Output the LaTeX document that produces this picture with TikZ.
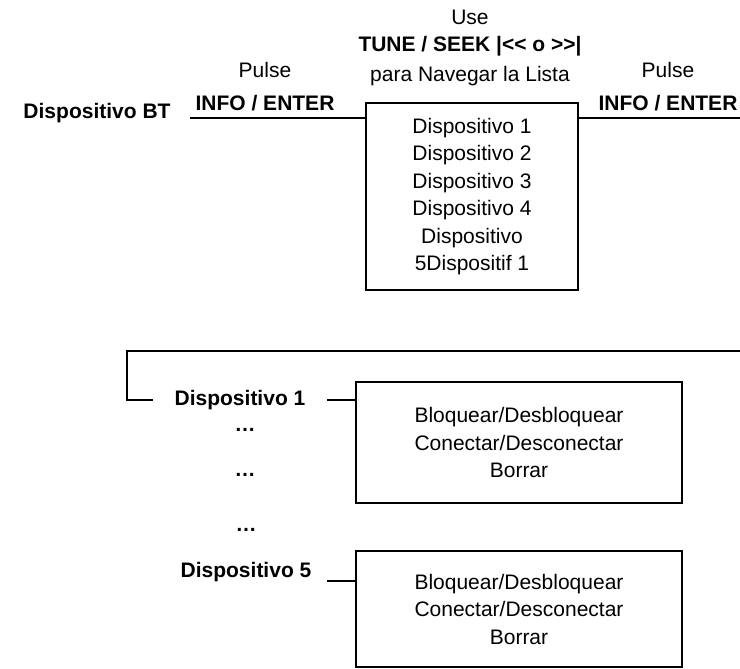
\documentclass[tikz,border=0pt]{standalone}
\usepackage{fontspec}
\setmainfont{Liberation Sans}
\usepackage{tikz}
\usetikzlibrary{positioning,calc}

\tikzset{
  txt/.style={align=center, inner sep=0pt, font=\fontsize{21}{27.5}\selectfont},
  neg/.style={align=center, inner sep=0pt, font=\fontsize{21}{27.5}\selectfont\bfseries},
  caja/.style={draw, line width=1.6pt, align=center, inner sep=0pt, font=\fontsize{21}{27.5}\selectfont},
  linea/.style={line width=1.6pt}
}

\begin{document}
\begin{tikzpicture}[x=1pt,y=-1pt]
  \useasboundingbox (0,0) rectangle (740,669); % 全体の大きさ
  % 上段：装置一覧
  \node[txt] (use) at (470,17) {Use}; % 上の説明
  \node[neg] (tune) at (470,46) {TUNE / SEEK |<{}< o >{}>|}; % ボタン名
  \node[txt] (nav) at (470,76) {para Navegar la Lista}; % 説明の続き
  \node[neg] (bt) at (97,113) {Dispositivo BT}; % 出発点
  \node[txt] (pulseL) at (265,70) {Pulse}; % 左の操作
  \node[neg] (infoL) at (265,103) {INFO / ENTER};
  \node[txt] (pulseR) at (668,70) {Pulse}; % 右の操作
  \node[neg] (infoR) at (668,103) {INFO / ENTER};
  \node[caja, minimum width=212pt, minimum height=187pt] (lista) at (472,196.5)
    {Dispositivo 1\\Dispositivo 2\\Dispositivo 3\\Dispositivo 4\\Dispositivo\\5Dispositif 1}; % 一覧の箱
  \coordinate (ini) at (190,118); % 左の線の始まり
  \coordinate (fin) at (740,118); % 右の線の終わり
  \draw[linea] (ini) -- (ini -| lista.west); % 左の線
  \draw[linea] (lista.east |- fin) -- (fin); % 右の線
  % 下段：各装置のメニュー
  \coordinate (ramaA) at (740,351); % 右から来る線
  \coordinate (ramaB) at (127,351); % 角
  \coordinate (ramaC) at (153,400); % 枝の先
  \draw[linea] (ramaA) -- (ramaB) |- (ramaC); % 折れ線
  \node[neg] (disp1) at (240,400) {Dispositivo 1};
  \node[neg] (dotsA) at (245,430) {…};
  \node[neg] (dotsB) at (245,475) {…};
  \node[neg] (dotsC) at (246,530) {…};
  \node[neg] (disp5) at (246,572) {Dispositivo 5};
  \node[caja, minimum width=326pt, minimum height=121pt] (menu1) at (519,442.5)
    {Bloquear/Desbloquear\\Conectar/Desconectar\\Borrar}; % 1番目のメニュー
  \node[caja, minimum width=326pt, minimum height=116pt] (menu5) at (519,609)
    {Bloquear/Desbloquear\\Conectar/Desconectar\\Borrar}; % 5番目のメニュー
  \coordinate (c1) at (327,400); % 短い線の始まり
  \coordinate (c5) at (327,581);
  \draw[linea] (c1) -- (c1 -| menu1.west); % 装置1から箱へ
  \draw[linea] (c5) -- (c5 -| menu5.west); % 装置5から箱へ
\end{tikzpicture}
\end{document}
